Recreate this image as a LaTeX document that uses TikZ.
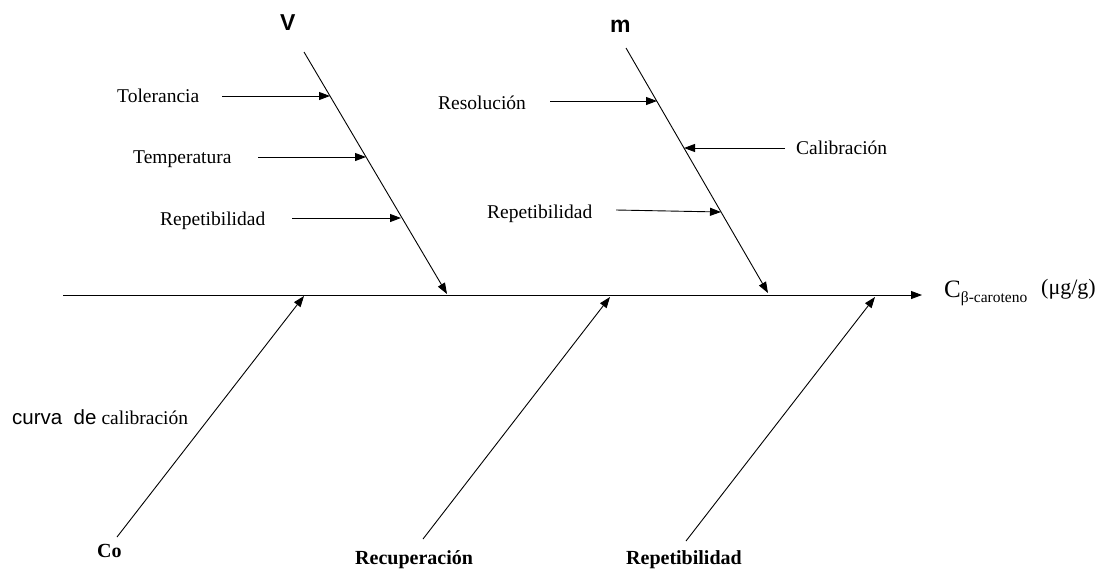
\documentclass[tikz,border=0pt]{standalone}
\usepackage{fontspec}
\setmainfont{Liberation Serif}
\newfontfamily\arialf{Liberation Sans}
\usetikzlibrary{arrows.meta}
\begin{document}
\begin{tikzpicture}[x=1pt,y=-1pt,
  bone/.style={line width=0.9pt},
  arr/.style={line width=0.9pt,-{Triangle[length=11pt,width=8pt]}},
  lbl/.style={anchor=base west,inner sep=0pt,font=\fontsize{19.5}{21}\selectfont},
  blbl/.style={anchor=base west,inner sep=0pt,font=\fontsize{20}{22}\selectfont\bfseries},
  head/.style={anchor=base west,inner sep=0pt,font=\arialf\fontsize{23}{25}\selectfont\bfseries}]
\useasboundingbox (0,0) rectangle (1105,571);
% spine
\coordinate (sp0) at (63,295);
\coordinate (sp1) at (922,295);
\draw[arr] (sp0) -- (sp1);
\node[anchor=base west,inner sep=0pt] (effect) at (944,297)
  {\fontsize{25}{27}\selectfont C\raisebox{-5pt}{\fontsize{15.5}{17}\selectfont β-caroteno}};
\node[anchor=base west,inner sep=0pt,font=\fontsize{22}{24}\selectfont] (unit) at (1041,294) {(μg/g)};
% V bone
\node[head] (V) at (280,30) {V};
\coordinate (v0) at (304,52);
\coordinate (v1) at (447,294);
\draw[arr] (v0) -- (v1);
\node[lbl] (tol) at (117,102) {Tolerancia};
\coordinate (tols) at (222,96); \coordinate (tole) at (330,96);
\draw[arr] (tols) -- (tole);
\node[lbl] (tem) at (133,163) {Temperatura};
\coordinate (tems) at (258,157); \coordinate (teme) at (366,157);
\draw[arr] (tems) -- (teme);
\node[lbl] (repv) at (160,225) {Repetibilidad};
\coordinate (repvs) at (292,218); \coordinate (repve) at (401,218);
\draw[arr] (repvs) -- (repve);
% m bone
\node[head] (m) at (610,32) {m};
\coordinate (m0) at (626,48);
\coordinate (m1) at (768,293);
\draw[arr] (m0) -- (m1);
\node[lbl] (res) at (438,109) {Resolución};
\coordinate (ress) at (550,101); \coordinate (rese) at (657,101);
\draw[arr] (ress) -- (rese);
\node[lbl] (cal) at (796,154) {Calibración};
\coordinate (cals) at (785,148); \coordinate (cale) at (684,148);
\draw[arr] (cals) -- (cale);
\node[lbl] (repm) at (487,218) {Repetibilidad};
\coordinate (repms) at (616,210); \coordinate (repme) at (721,212);
\draw[arr] (repms) -- (repme);
% lower bones
\node[anchor=base west,inner sep=0pt] (curva) at (12,424)
  {{\arialf\fontsize{20.5}{22}\selectfont curva\ \ de}\hspace{5pt}{\fontsize{19.5}{21}\selectfont calibración}};
\node[blbl] (co) at (97,557) {Co};
\coordinate (c0) at (117,537); \coordinate (c1) at (304,296);
\draw[arr] (c0) -- (c1);
\node[blbl] (rec) at (355,564) {Recuperación};
\coordinate (r0) at (423,539); \coordinate (r1) at (610,297);
\draw[arr] (r0) -- (r1);
\node[blbl] (repb) at (626,564) {Repetibilidad};
\coordinate (p0) at (686,541); \coordinate (p1) at (875,297);
\draw[arr] (p0) -- (p1);
\end{tikzpicture}
\end{document}
